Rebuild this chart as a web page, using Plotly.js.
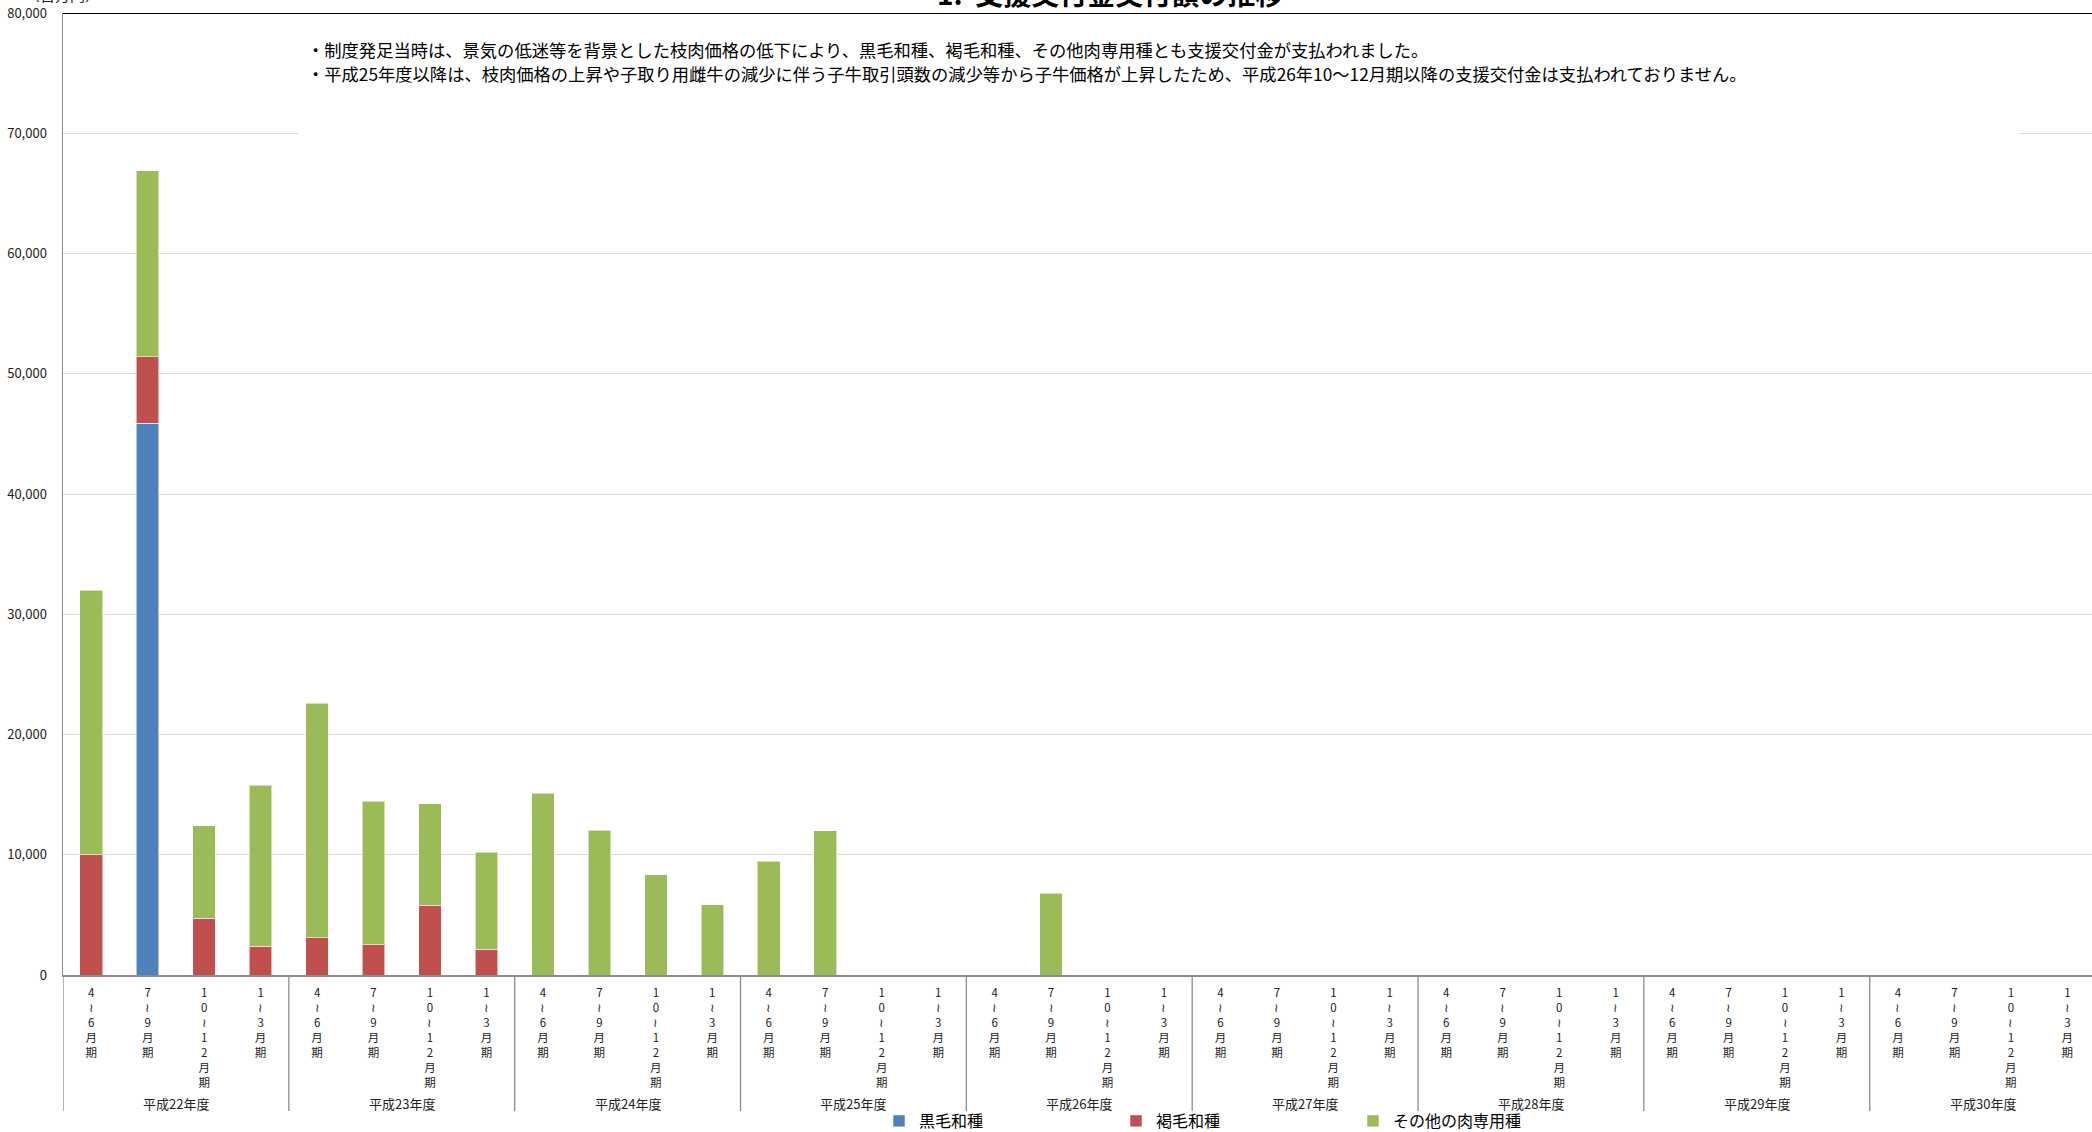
<!DOCTYPE html>
<html>
<head>
<meta charset="utf-8">
<script src="https://cdn.plot.ly/plotly-3.0.1.min.js"></script>
<style>
  html, body { margin: 0; padding: 0; background: #fff; overflow: hidden; }
  #chart { width: 2092px; height: 1132px; }
</style>
</head>
<body>
<div id="chart"></div>
<script>
// ---- data ----
const years = ['平成22年度','平成23年度','平成24年度','平成25年度','平成26年度','平成27年度','平成28年度','平成29年度','平成30年度'];
const quarters = ['4～6月期','7～9月期','10～12月期','1～3月期'];
const seriesNames = ['黒毛和種','褐毛和種','その他の肉専用種'];
const kuroge = [0,45900,0,0, 0,0,0,0, 0,0,0,0, 0,0,0,0, 0,0,0,0, 0,0,0,0, 0,0,0,0, 0,0,0,0, 0,0,0,0];
const akage  = [10000,5500,4700,2400, 3100,2500,5800,2150, 0,0,0,0, 0,0,0,0, 0,0,0,0, 0,0,0,0, 0,0,0,0, 0,0,0,0, 0,0,0,0];
const other  = [22000,15500,7700,13400, 19500,11950,8450,8050, 15100,12050,8350,5850, 9450,12000,0,0, 0,6800,0,0, 0,0,0,0, 0,0,0,0, 0,0,0,0, 0,0,0,0];
const yTicks = [0,10000,20000,30000,40000,50000,60000,70000,80000];
const titleText = '1.  支援交付金交付額の推移';
const unitText = '（百万円）';
const noteLines = [
  '・制度発足当時は、景気の低迷等を背景とした枝肉価格の低下により、黒毛和種、褐毛和種、その他肉専用種とも支援交付金が支払われました。',
  '・平成25年度以降は、枝肉価格の上昇や子取り用雌牛の減少に伴う子牛取引頭数の減少等から子牛価格が上昇したため、平成26年10～12月期以降の支援交付金は支払われておりません。'
];
const colors = ['#4F81BD','#C0504D','#9BBB59'];

// ---- build ----
const keys = [];
const tickText = [];
function vertical(q) {
  return q.split('').map(c => c === '～' ? '≀' : c).join('<br>');
}
years.forEach(y => quarters.forEach(q => { keys.push(y + ' ' + q); tickText.push(vertical(q)); }));

const FONT = '"Noto Sans CJK JP", "Noto Sans", sans-serif';
const values = [kuroge, akage, other];
const traces = values.map((v, i) => ({
  type: 'bar',
  name: seriesNames[i],
  x: keys,
  y: v,
  marker: { color: colors[i], line: { color: 'rgba(255,255,255,0.55)', width: 1 } },
  hoverinfo: 'skip'
}));

const W = 2092, H = 1132;
const L = 63, T = 13, B = H - 975;
const plotH = H - T - B;
const plotW = W - L;
const catW = 56.46;
const xMax = -0.5 + plotW / catW;

const py = (pix) => 1 - (pix - T) / plotH;   // page pixel y -> paper y
const px = (pix) => (pix - L) / plotW;       // page pixel x -> paper x

const shapes = [];
// white box behind note text (covers 70,000 gridline)
shapes.push({ type: 'rect', xref: 'paper', yref: 'paper', x0: px(298), x1: px(2020), y0: py(150), y1: py(25),
  fillcolor: '#ffffff', line: { width: 0 }, layer: 'above' });
// top black border at 80,000
shapes.push({ type: 'line', xref: 'paper', yref: 'y', x0: 0, x1: 1.01, y0: yTicks[yTicks.length-1], y1: yTicks[yTicks.length-1],
  line: { color: '#000000', width: 2 }, layer: 'above' });
// year separators
for (let i = 0; i <= years.length; i++) {
  shapes.push({ type: 'line', xref: 'x', yref: 'paper', x0: i * quarters.length - 0.5, x1: i * quarters.length - 0.5,
    y0: 0, y1: py(1111), line: { color: '#8c8c8c', width: 1.3 } });
}

const annotations = [];
years.forEach((y, i) => {
  annotations.push({ xref: 'x', yref: 'paper', x: i * quarters.length + (quarters.length - 1) / 2, y: py(1103),
    text: y, showarrow: false, xanchor: 'center', yanchor: 'middle', font: { family: FONT, size: 13, color: '#222' } });
});
noteLines.forEach((t, i) => {
  annotations.push({ xref: 'paper', yref: 'paper', x: px(305), y: py(49 + 24 * i), text: t, showarrow: false,
    xanchor: 'left', yanchor: 'middle', font: { family: FONT, size: 17.3, color: '#000' } });
});
annotations.push({ xref: 'paper', yref: 'paper', x: px(1110), y: py(-7), text: '<b>' + titleText + '</b>', showarrow: false,
  xanchor: 'center', yanchor: 'middle', font: { family: FONT, size: 28, color: '#000' } });
annotations.push({ xref: 'paper', yref: 'paper', x: px(62), y: py(-6), text: unitText, showarrow: false,
  xanchor: 'center', yanchor: 'middle', font: { family: FONT, size: 15, color: '#222' } });

const layout = {
  width: W, height: H,
  margin: { l: L, r: 0, t: T, b: B, pad: 0, autoexpand: false },
  paper_bgcolor: '#ffffff', plot_bgcolor: '#ffffff',
  barmode: 'stack',
  bargap: 0.6,
  showlegend: true,
  legend: { orientation: 'h', x: px(879), xanchor: 'left', y: py(1121), yanchor: 'middle',
    font: { family: FONT, size: 16, color: '#000' }, entrywidth: 192, entrywidthmode: 'pixels',
    bgcolor: 'rgba(0,0,0,0)', traceorder: 'normal', itemclick: false },
  xaxis: {
    type: 'category', range: [-0.5, xMax], tickmode: 'array', tickvals: keys, ticktext: tickText,
    showgrid: false, zeroline: false, showline: true, linecolor: '#8c8c8c', linewidth: 2,
    ticks: '', tickfont: { family: FONT, size: 11.5, color: '#222' }, ticklabelstandoff: 6, fixedrange: true
  },
  yaxis: {
    range: [0, yTicks[yTicks.length-1]], tickmode: 'array', tickvals: yTicks, tickformat: ',d',
    showgrid: true, gridcolor: '#d9d9d9', gridwidth: 1, zeroline: false,
    showline: true, linecolor: '#8c8c8c', linewidth: 1.5, ticks: '',
    tickfont: { family: FONT, size: 13, color: '#222' }, ticklabelstandoff: 12, fixedrange: true
  },
  shapes: shapes,
  annotations: annotations
};

Plotly.newPlot('chart', traces, layout, { displayModeBar: false, staticPlot: true });
</script>
</body>
</html>
